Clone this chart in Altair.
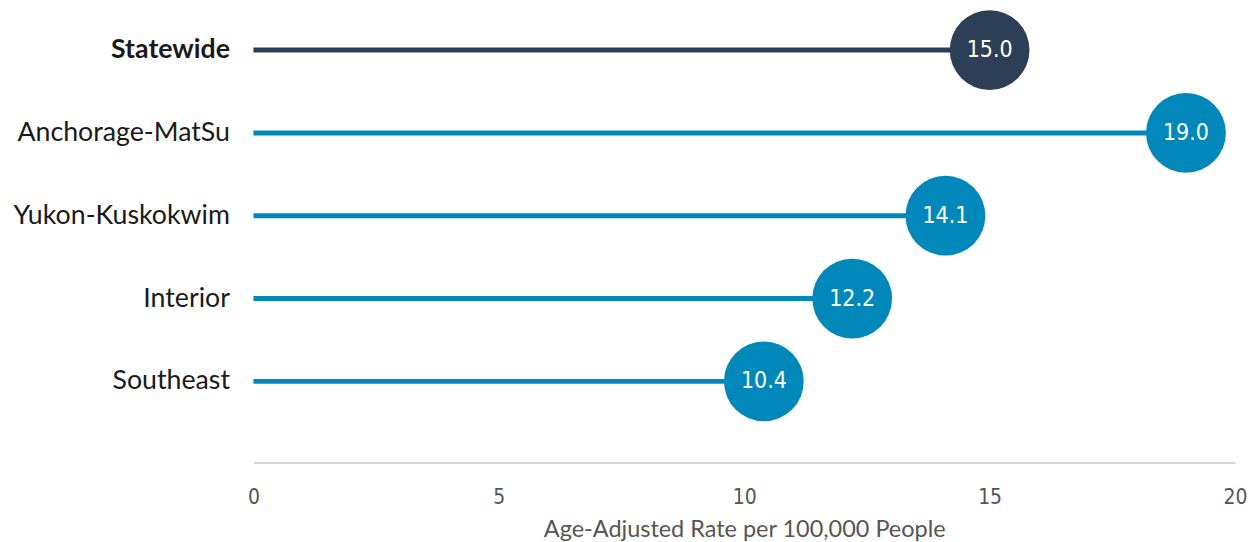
import altair as alt
import pandas as pd

regions = ["Statewide", "Anchorage-MatSu", "Yukon-Kuskokwim", "Interior", "Southeast"]
rates = [15.0, 19.0, 14.1, 12.2, 10.4]
groups = ["state", "region", "region", "region", "region"]

df = pd.DataFrame({"region": regions, "rate": rates, "group": groups})
df["label"] = df["rate"].map(lambda v: f"{v:.1f}")

color_scale = alt.Scale(domain=["state", "region"], range=["#2D3F56", "#0088BB"])
num_font = "'DejaVu Sans Condensed', Roboto, sans-serif"

y_enc = alt.Y(
    "region:N",
    sort=regions,
    title=None,
    scale=alt.Scale(paddingInner=0, paddingOuter=0.24, align=0),
    axis=alt.Axis(
        domain=False, ticks=False, labelPadding=24, labelLimit=0,
        labelFontSize=26.8, labelColor="#1a1a1a", labelFont="Lato",
        labelFontWeight=alt.expr("datum.value == 'Statewide' ? 'bold' : 'normal'"),
        minExtent=246, maxExtent=246,
    ),
)
x_scale = alt.Scale(domain=[0, 20])
x_axis = alt.Axis(
    values=[0, 5, 10, 15, 20], grid=False, ticks=False,
    domainColor="#d6d6d6", domainWidth=2,
    labelFontSize=21, labelColor="#555555", labelFont=num_font,
    labelPadding=24, labelFlush=False,
    title="Age-Adjusted Rate per 100,000 People",
    titleFontSize=23.5, titleColor="#555555", titleFont="Lato", titleFontWeight="normal",
    titlePadding=10,
)

base = alt.Chart(df)

rules = base.mark_rule(strokeWidth=5).encode(
    x=alt.X("zero:Q", scale=x_scale, axis=x_axis),
    x2="rate:Q",
    y=y_enc,
    color=alt.Color("group:N", scale=color_scale, legend=None),
).transform_calculate(zero="0")

dots = base.mark_circle(size=6400, opacity=1).encode(
    x=alt.X("rate:Q", scale=x_scale),
    y=alt.Y("region:N", sort=regions),
    color=alt.Color("group:N", scale=color_scale, legend=None),
)

labels = base.mark_text(
    color="white", fontSize=23, font=num_font, align="center", baseline="middle"
).encode(
    x=alt.X("rate:Q", scale=x_scale),
    y=alt.Y("region:N", sort=regions),
    text="label:N",
)

chart = (
    alt.layer(rules, dots, labels)
    .properties(width=984, height=455, padding={"left": 0, "top": 0, "right": 0, "bottom": 0})
    .configure(background="white", view=alt.ViewConfig(strokeWidth=0, strokeOpacity=0))
)

chart.save("out.html", embed_options={"renderer": "svg", "actions": False})
